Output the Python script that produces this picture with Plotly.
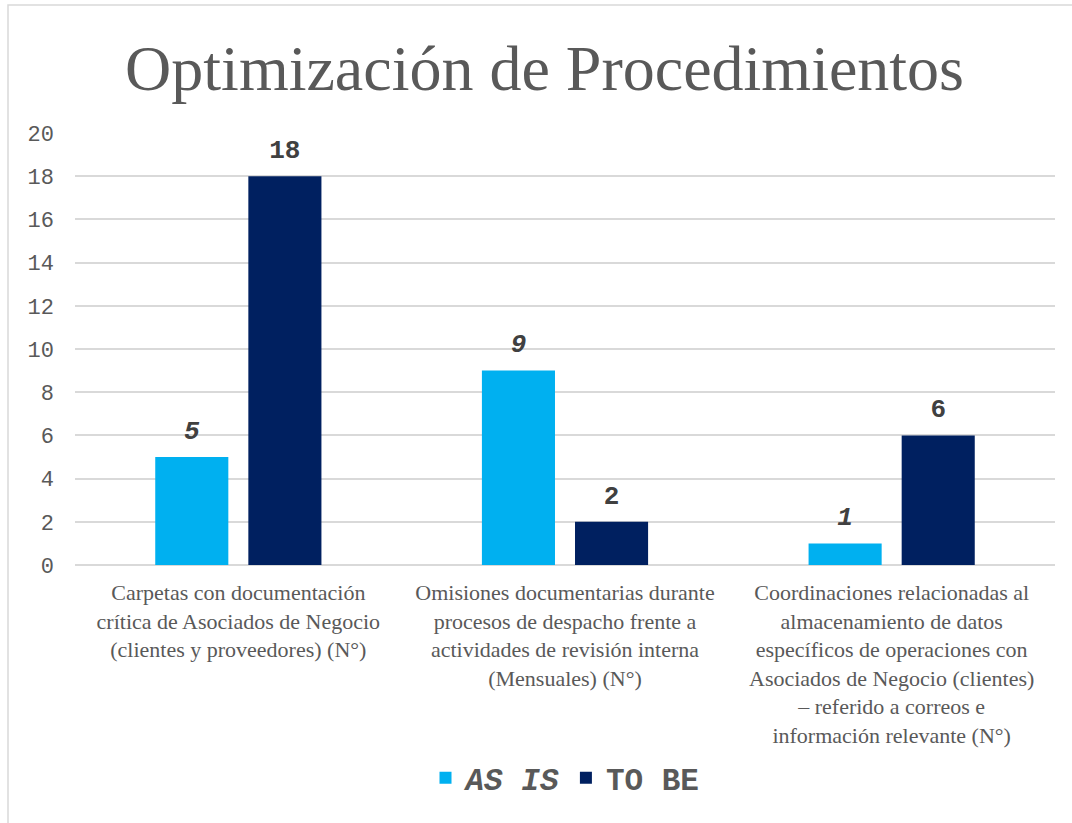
import plotly.graph_objects as go

categories = [
    "Carpetas con documentación<br>crítica de Asociados de Negocio<br>(clientes y proveedores) (N°)",
    "Omisiones documentarias durante<br>procesos de despacho frente a<br>actividades de revisión interna<br>(Mensuales) (N°)",
    "Coordinaciones relacionadas al<br>almacenamiento de datos<br>específicos de operaciones con<br>Asociados de Negocio (clientes)<br>– referido a correos e<br>información relevante (N°)",
]
as_is = [5, 9, 1]
to_be = [18, 2, 6]
y_ticks = list(range(0, 21, 2))

W, H = 1072, 823
L, R, T, B = 75, 17, 133, 258
pw, ph = W - L - R, H - T - B

def px(x):
    return (x - L) / pw

def py(y):
    return (H - B - y) / ph

mono = "Liberation Mono, Courier New, monospace"
serif = "Liberation Serif, Times New Roman, serif"
c_as, c_to = "#00B0F0", "#002060"

fig = go.Figure()
fig.add_trace(go.Bar(x=categories, y=as_is, name="<b><i>AS IS</i></b>", offsetgroup="a",
                     marker=dict(color=c_as, line=dict(width=0))))
fig.add_trace(go.Bar(x=categories, y=to_be, name="<b>TO BE</b>", offsetgroup="b",
                     marker=dict(color=c_to, line=dict(width=0))))
# data labels (text placed above invisible markers so they sit a bit higher than bar tops)
fig.add_trace(go.Scatter(x=categories, y=as_is, offsetgroup="a", mode="markers+text",
                         text=[f"<b><i>{v}</i></b>" for v in as_is], textposition="top center",
                         marker=dict(size=17, opacity=0), showlegend=False, hoverinfo="skip",
                         textfont=dict(family=mono, size=26, color="#404040"), cliponaxis=False))
fig.add_trace(go.Scatter(x=categories, y=to_be, offsetgroup="b", mode="markers+text",
                         text=[f"<b>{v}</b>" for v in to_be], textposition="top center",
                         marker=dict(size=17, opacity=0), showlegend=False, hoverinfo="skip",
                         textfont=dict(family=mono, size=26, color="#404040"), cliponaxis=False))

fig.update_layout(
    width=W, height=H,
    margin=dict(l=L, r=R, t=T, b=B, autoexpand=False),
    paper_bgcolor="white", plot_bgcolor="white",
    barmode="group", bargap=0.43, bargroupgap=0.215,
    scattermode="group", scattergap=0.43,
    title=dict(text="Optimización de Procedimientos", x=0.508, xanchor="center",
               y=1 - 68 / H, yanchor="middle", yref="container",
               font=dict(family=serif, size=64, color="#595959")),
    showlegend=True,
    legend=dict(orientation="h", x=0.5, xanchor="center", y=py(778), yanchor="middle",
                font=dict(family=mono, size=31, color="#595959"),
                itemwidth=30, traceorder="normal"),
)
fig.update_yaxes(range=[0, 20], tickvals=y_ticks, showgrid=True, gridcolor="#D9D9D9",
                 gridwidth=1.5, zeroline=True, zerolinecolor="#D9D9D9", zerolinewidth=1.5,
                 showline=False, ticks="", ticklabelstandoff=20,
                 tickfont=dict(family=mono, size=22, color="#595959"))
fig.update_xaxes(showgrid=False, showline=False, ticks="", ticklabelstandoff=12,
                 tickfont=dict(family=serif, size=22, color="#595959"), tickangle=0)

# chart frame
fig.add_shape(type="rect", xref="paper", yref="paper",
              x0=px(8), x1=px(1090), y0=py(900), y1=py(5),
              line=dict(color="#D9D9D9", width=1.5), fillcolor="rgba(0,0,0,0)", layer="below")

fig.write_html("out.html")
